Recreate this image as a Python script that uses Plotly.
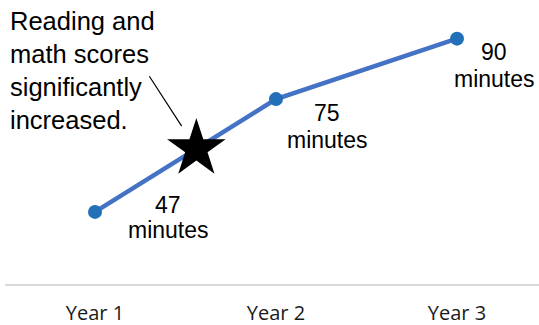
import numpy as np
import plotly.graph_objects as go

# Average daily minutes per school year
years = ["Year 1", "Year 2", "Year 3"]
minutes = [47, 75, 90]
unit_label = "minutes"

# Milestone marker placed along the Year 1 -> Year 2 segment
star_at = 0.56
note_text = "Reading and<br>math scores<br>significantly<br>increased."

# Label offsets (px) relative to each point: (dx, dy_number, dy_unit)
label_offsets = [(73, 7, -18), (51, -14, -41), (37, -13, -40)]

W, H = 539, 325
ML, MR, MT, MB = 5, 0, 0, 41
PW, PH = W - ML - MR, H - MT - MB

LABEL_FONT = dict(family="Liberation Sans, Arial, sans-serif", size=23, color="#000000")

xpos = np.arange(len(years))
star_y = float(np.interp(star_at, xpos, minutes))

fig = go.Figure()
fig.add_trace(go.Scatter(
    x=xpos, y=minutes, mode="lines+markers",
    line=dict(color="#4472C4", width=4.5),
    marker=dict(color="#2170B8", size=14),
    hoverinfo="skip", showlegend=False,
))
fig.add_trace(go.Scatter(
    x=[star_at], y=[star_y], mode="markers",
    marker=dict(symbol="star", size=44, color="#000000", line=dict(width=0)),
    hoverinfo="skip", showlegend=False,
))

annotations = []
for xi, v, (dx, dyn, dyu) in zip(xpos, minutes, label_offsets):
    annotations.append(dict(x=xi, y=v, xref="x", yref="y", text=str(v), showarrow=False,
                            xshift=dx, yshift=dyn, font=LABEL_FONT))
    annotations.append(dict(x=xi, y=v, xref="x", yref="y", text=unit_label, showarrow=False,
                            xshift=dx, yshift=dyu, font=LABEL_FONT))

# leader line from the note to the star
annotations.append(dict(x=star_at, y=star_y, xref="x", yref="y", text="", showarrow=True,
                        arrowhead=0, arrowwidth=1.2, arrowcolor="#000000",
                        ax=-48, ay=-74, standoff=27))
annotations.append(dict(x=(8 - ML) / PW, y=1 - (5 - MT) / PH, xref="paper", yref="paper",
                        xanchor="left", yanchor="top", align="left", showarrow=False,
                        text=note_text,
                        font=dict(family="Liberation Sans, Arial, sans-serif", size=25.5, color="#000000")))

fig.update_layout(
    width=W, height=H,
    margin=dict(l=ML, r=MR, t=MT, b=MB, pad=0, autoexpand=False),
    paper_bgcolor="#ffffff", plot_bgcolor="#ffffff",
    annotations=annotations,
    xaxis=dict(
        range=[-90 / 181, (PW - 90) / 181],
        tickmode="array", tickvals=xpos, ticktext=years,
        showgrid=False, zeroline=False, automargin=False,
        showline=True, linecolor="#d9d9d9", linewidth=2,
        ticks="outside", ticklen=10, tickcolor="rgba(0,0,0,0)",
        tickfont=dict(family="Open Sans, sans-serif", size=20, color="#1a1a1a"),
    ),
    yaxis=dict(range=[29.1, 99.6], visible=False, showgrid=False, zeroline=False,
               automargin=False),
)

fig.write_html("out.html", config={"displayModeBar": False})
